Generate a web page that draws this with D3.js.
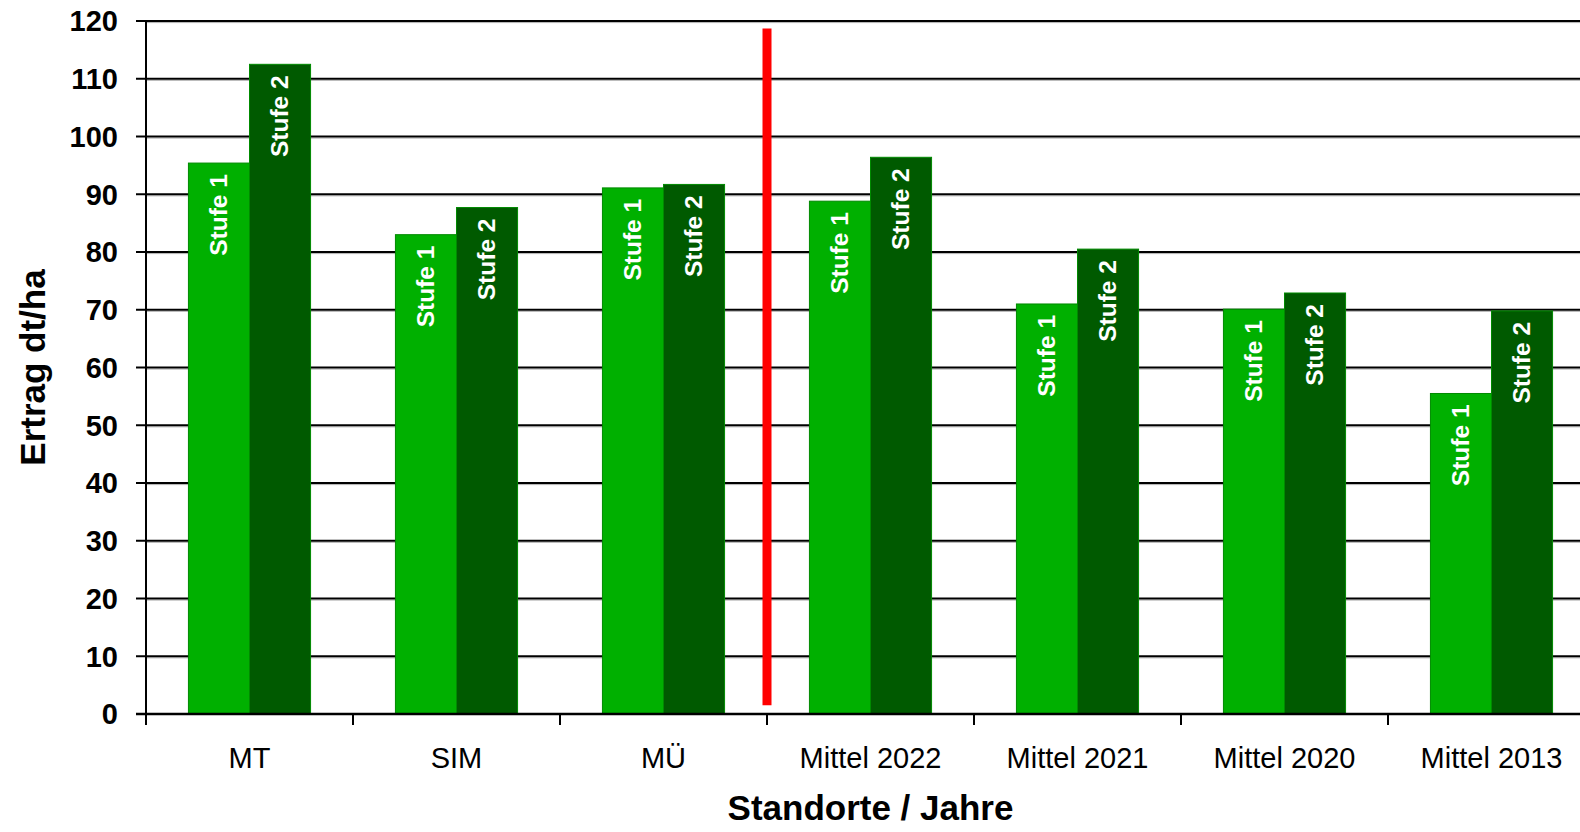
<!DOCTYPE html>
<html>
<head>
<meta charset="utf-8">
<script src="https://cdn.jsdelivr.net/npm/d3@7"></script>
<style>
  html, body { margin: 0; padding: 0; background: #fff; }
  svg { display: block; font-family: "Liberation Sans", Arial, sans-serif; }
</style>
</head>
<body>
<svg id="chart"></svg>
<script>
const categories = ["MT", "SIM", "MÜ", "Mittel 2022", "Mittel 2021", "Mittel 2020", "Mittel 2013"];
const series = ["Stufe 1", "Stufe 2"];
const stufe1 = [95.4, 83.0, 91.1, 88.8, 71.0, 70.1, 55.5];
const stufe2 = [112.5, 87.7, 91.7, 96.4, 80.5, 72.9, 69.8];
const yTicks = [0, 10, 20, 30, 40, 50, 60, 70, 80, 90, 100, 110, 120];
const separatorAfter = "MÜ";
const separatorRange = [1.5, 118.7];

const width = 1580;
const height = 832;
const plotLeft = 146, plotRight = 1595, plotTop = 21, plotBottom = 714;

const svg = d3.select("#chart")
  .attr("width", width)
  .attr("height", height);

const x = d3.scaleBand()
  .domain(categories)
  .range([plotLeft, plotRight])
  .paddingInner(0.41)
  .paddingOuter(0.205);

const xs = d3.scaleBand()
  .domain(series)
  .range([0, x.bandwidth()]);

const y = d3.scaleLinear()
  .domain([0, 120])
  .range([plotBottom, plotTop]);

const colors = { "Stufe 1": "#00b000", "Stufe 2": "#005a00" };

// gridlines with a faint shadow underneath
const grid = svg.append("g");
yTicks.filter(t => t > 0).forEach(t => {
  grid.append("line")
    .attr("x1", plotLeft).attr("x2", width)
    .attr("y1", y(t) + 1.6).attr("y2", y(t) + 1.6)
    .attr("stroke", "#b0b0b0").attr("stroke-width", 1);
  grid.append("line")
    .attr("x1", plotLeft).attr("x2", width)
    .attr("y1", y(t)).attr("y2", y(t))
    .attr("stroke", "#000").attr("stroke-width", 2);
});

// bars
const rows = categories.map((c, i) => ({ cat: c, values: [stufe1[i], stufe2[i]] }));

const groups = svg.append("g")
  .selectAll("g")
  .data(rows)
  .enter()
  .append("g")
  .attr("transform", d => `translate(${x(d.cat)},0)`);

groups.selectAll("rect")
  .data(d => d.values.map((v, j) => ({ key: series[j], value: v })))
  .enter()
  .append("rect")
  .attr("x", d => xs(d.key))
  .attr("y", d => y(d.value))
  .attr("width", xs.bandwidth())
  .attr("height", d => y(0) - y(d.value))
  .attr("fill", d => colors[d.key])
  .attr("stroke", "#008a00")
  .attr("stroke-width", 1);

groups.selectAll("text")
  .data(d => d.values.map((v, j) => ({ key: series[j], value: v })))
  .enter()
  .append("text")
  .attr("transform", d => `translate(${xs(d.key) + xs.bandwidth() / 2 - 1},${y(d.value) + 11}) rotate(-90)`)
  .attr("text-anchor", "end")
  .attr("dy", "0.36em")
  .attr("fill", "#fff")
  .attr("font-weight", "bold")
  .attr("font-size", 24.5)
  .text(d => d.key);

// red separator
const step = x.step();
const sepX = x(separatorAfter) + x.bandwidth() + step * x.paddingInner() / 2;
svg.append("line")
  .attr("x1", sepX).attr("x2", sepX)
  .attr("y1", y(separatorRange[1])).attr("y2", y(separatorRange[0]))
  .attr("stroke", "#ff0000")
  .attr("stroke-width", 9);

// y axis
const yAxis = svg.append("g");
yAxis.append("line")
  .attr("x1", plotLeft).attr("x2", plotLeft)
  .attr("y1", plotTop - 1).attr("y2", plotBottom + 11)
  .attr("stroke", "#000").attr("stroke-width", 2);
yAxis.selectAll("line.tick")
  .data(yTicks)
  .enter()
  .append("line")
  .attr("class", "tick")
  .attr("x1", plotLeft - 10).attr("x2", plotLeft)
  .attr("y1", d => y(d)).attr("y2", d => y(d))
  .attr("stroke", "#000").attr("stroke-width", 2);
yAxis.selectAll("text")
  .data(yTicks)
  .enter()
  .append("text")
  .attr("x", 118)
  .attr("y", d => y(d))
  .attr("dy", "0.36em")
  .attr("text-anchor", "end")
  .attr("font-weight", "bold")
  .attr("font-size", 29)
  .text(d => d);

// x axis
const xAxis = svg.append("g");
xAxis.append("line")
  .attr("x1", plotLeft - 10).attr("x2", width)
  .attr("y1", plotBottom).attr("y2", plotBottom)
  .attr("stroke", "#000").attr("stroke-width", 2.5);
const boundaries = d3.range(categories.length + 1).map(i => plotLeft + i * step);
xAxis.selectAll("line.tick")
  .data(boundaries)
  .enter()
  .append("line")
  .attr("class", "tick")
  .attr("x1", d => d).attr("x2", d => d)
  .attr("y1", plotBottom).attr("y2", plotBottom + 11)
  .attr("stroke", "#000").attr("stroke-width", 2);
xAxis.selectAll("text")
  .data(categories)
  .enter()
  .append("text")
  .attr("x", d => x(d) + x.bandwidth() / 2)
  .attr("y", 768)
  .attr("text-anchor", "middle")
  .attr("font-size", 29)
  .text(d => d);

// titles
svg.append("text")
  .attr("x", (plotLeft + plotRight) / 2)
  .attr("y", 820)
  .attr("text-anchor", "middle")
  .attr("font-weight", "bold")
  .attr("font-size", 35)
  .text("Standorte / Jahre");

svg.append("text")
  .attr("transform", `translate(45,${(plotTop + plotBottom) / 2}) rotate(-90)`)
  .attr("text-anchor", "middle")
  .attr("font-weight", "bold")
  .attr("font-size", 35)
  .text("Ertrag dt/ha");
</script>
</body>
</html>
